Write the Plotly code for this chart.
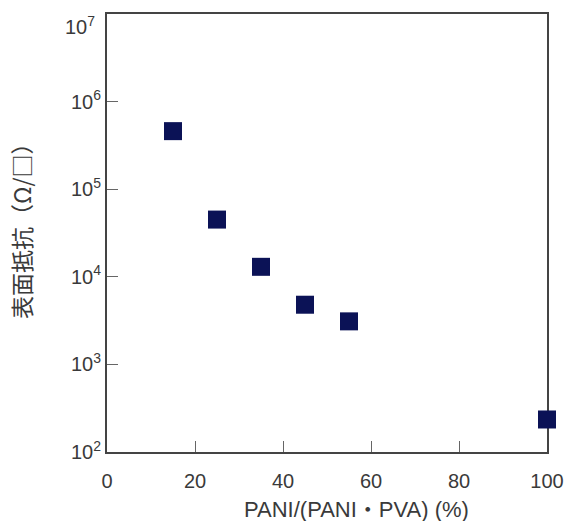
import math
import plotly.graph_objects as go

pani_ratio = [15, 25, 35, 45, 55, 100]
surface_resistance = [4.6e5, 4.5e4, 1.3e4, 4.8e3, 3.1e3, 2.35e2]

x_ticks = [0, 20, 40, 60, 80, 100]
y_tickvals = [1e2, 1e3, 1e4, 1e5, 1e6, 1e7]
y_ticktext = ["10<sup>2</sup>", "10<sup>3</sup>", "10<sup>4</sup>", "10<sup>5</sup>", "10<sup>6</sup>", "10<sup>7</sup>"]

x_title = "PANI/(PANI・PVA) (%)"
y_title = "表面抵抗（Ω/□）"

TICK_FONT = dict(family="Liberation Sans, Arial, sans-serif", size=20, color="#3a3a3a")

fig = go.Figure()
fig.add_trace(go.Scatter(
    x=pani_ratio, y=surface_resistance, mode="markers",
    marker=dict(symbol="square", size=18, color="#0b1256", line=dict(width=0)),
    cliponaxis=False, showlegend=False,
))

axis_common = dict(
    showline=True, linecolor="#444444", linewidth=2, mirror=True,
    showgrid=False, zeroline=False, ticks="inside", ticklen=11, tickwidth=1,
    tickcolor="#666666", layer="below traces", automargin=False,
    tickfont=TICK_FONT,
)

# top tick label is drawn slightly lowered (as in the reference) via an annotation
shown_text = y_ticktext[:-1] + [""]

fig.update_layout(
    width=566, height=521,
    margin=dict(l=107, r=19, t=14, b=69),
    paper_bgcolor="white", plot_bgcolor="white",
    xaxis=dict(range=[0, 100], tickvals=x_ticks, ticklabelstandoff=10, **axis_common),
    yaxis=dict(type="log", range=[2, 7], tickvals=y_tickvals, ticktext=shown_text,
               **axis_common),
)

fig.add_annotation(
    x=0, xref="paper", y=math.log10(y_tickvals[-1]), yref="y",
    text=y_ticktext[-1], showarrow=False, xanchor="right", yanchor="middle",
    xshift=-10, yshift=-11, font=TICK_FONT,
)
fig.add_annotation(
    x=0.566, xref="paper", y=0, yref="paper",
    text=x_title, showarrow=False, xanchor="center", yanchor="middle",
    yshift=-57,
    font=dict(family="Liberation Sans, Noto Sans CJK JP, sans-serif", size=22, color="#3a3a3a"),
)
fig.add_annotation(
    x=0, xref="paper", y=0.5, yref="paper",
    text=y_title, showarrow=False, textangle=-90,
    xanchor="center", yanchor="middle", xshift=-86, yshift=7,
    font=dict(family="Noto Sans CJK JP, sans-serif", size=23, color="#3a3a3a"),
)

fig.write_html("out.html", config={"displayModeBar": False},
               post_script="document.body.style.margin='0';document.body.style.overflow='hidden';")
